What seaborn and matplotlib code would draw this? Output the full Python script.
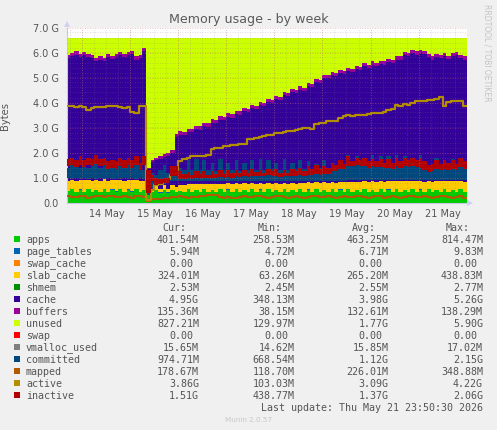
import numpy as np
import pandas as pd
import matplotlib
matplotlib.use("Agg")
import matplotlib.pyplot as plt
from matplotlib.patches import Rectangle
import seaborn as sns

# All values in GiB, one sample every two hours
total_ram = 6.6

apps = [.45,.55,.42,.52,.43,.55,.42,.50,.42,.55,.42,.52,.44,.55,.42,.52,.44,.55,.43,.50,
        .30,.42,.50,.40,.50,.40,.50,.42,.45,.42,.55,.42,.50,.42,.55,.42,.50,.42,.55,.42,
        .52,.42,.55,.42,.50,.42,.55,.42,.52,.42,.55,.42,.50,.42,.55,.42,.50,.42,.55,.42,
        .52,.42,.55,.42,.50,.42,.55,.42,.52,.42,.55,.42,.50,.42,.55,.42,.50,.42,.55,.42,
        .52,.42,.55,.42,.50,.42,.55,.42,.52,.42,.55,.42,.50,.42,.55,.42,.50,.42,.55,.42]
slab_cache = [.42,.36,.44,.38,.45,.36,.44,.38,.45,.37,.44,.38,.44,.36,.45,.38,.44,.36,.44,.36,
              .06,.10,.15,.12,.18,.12,.20,.18,.26,.28,.20,.30,.24,.30,.20,.30,.24,.30,.20,.30,
              .24,.32,.22,.32,.26,.32,.22,.32,.26,.32,.22,.32,.26,.32,.22,.32,.26,.32,.24,.34,
              .28,.34,.26,.36,.30,.36,.26,.36,.30,.38,.28,.38,.32,.38,.30,.40,.34,.40,.30,.40,
              .34,.42,.30,.42,.36,.42,.32,.42,.34,.40,.30,.40,.36,.42,.32,.42,.36,.42,.30,.40]
memory_used = [5.90,6.00,6.05,5.95,6.02,5.95,5.90,5.80,5.85,5.78,5.95,5.88,5.95,6.02,5.95,6.02,6.08,5.85,5.92,6.18,
               1.40,1.70,1.80,1.85,1.95,2.00,2.10,2.75,2.85,2.82,2.95,2.95,3.08,3.05,3.20,3.17,3.33,3.30,3.45,3.42,
               3.57,3.53,3.68,3.65,3.78,3.75,3.90,3.88,4.02,3.98,4.14,4.10,4.27,4.22,4.42,4.38,4.55,4.50,4.65,4.60,
               4.80,4.75,4.95,4.92,5.10,5.12,5.22,5.20,5.30,5.28,5.38,5.35,5.48,5.42,5.58,5.52,5.65,5.60,5.68,5.65,
               5.75,5.72,5.85,5.85,6.02,6.00,6.12,6.05,6.12,6.08,5.95,5.85,5.95,5.92,6.00,5.88,5.98,6.02,5.92,5.85]
buffers = [.13]*20 + [.04,.06,.08,.10,.12,.12,.13] + [.13]*73
page_tables = [.006]*100
swap_cache = [0.0]*100
shmem = [.0025]*100
swap = [0.0]*100
vmalloc_used = [.015]*100

committed_lo = [.98,.95]*10 + [.30,.60,.70,.72,.75,.78,.85,.85,.88,.86]*1 + [.88,.86]*20 + [.92,.90]*15
committed_hi = [1.40,1.50,1.60,1.40,1.55,1.40,1.50,1.60,1.40,1.55,1.35,1.50,1.40,1.60,1.40,1.50,1.40,1.60,1.35,1.30,
                1.00,1.20,1.10,1.30,1.50,1.20,1.40,1.30,1.40,1.30,1.70,1.30,1.75,1.30,1.70,1.30,1.60,1.25,1.75,1.30,
                1.60,1.30,1.70,1.25,1.60,1.30,1.70,1.30,1.75,1.30,1.70,1.35,1.60,1.30,1.75,1.30,1.60,1.35,1.70,1.35,
                1.65,1.35,1.55,1.40,1.70,1.35,1.60,1.40,1.70,1.40,1.90,1.50,1.85,1.50,1.80,1.50,1.90,1.50,1.85,1.50,
                1.85,1.50,1.90,1.50,1.85,1.50,1.80,1.50,1.90,1.45,1.40,1.50,1.80,1.45,1.70,1.40,1.75,1.40,1.80,1.45]
inactive_lo = [1.45,1.50,1.42,1.50,1.42,1.50,1.45,1.55,1.45,1.50,1.35,1.40,1.35,1.45,1.40,1.50,1.40,1.50,1.30,1.50,
               .40,.85,.72,.75,.80,.80,1.05,1.05,.95,.95,.97,.95,1.00,.97,1.00,.97,1.00,1.00,1.02,1.00,
               1.02,1.00,1.05,1.02,1.05,1.02,1.05,1.05,1.05,1.05,1.10,1.05,1.08,1.03,1.05,1.05,1.08,1.05,1.10,1.08,
               1.12,1.10,1.15,1.10,1.15,1.15,1.25,1.25,1.35,1.35,1.45,1.45,1.50,1.45,1.45,1.40,1.45,1.42,1.42,1.40,
               1.40,1.35,1.45,1.40,1.45,1.42,1.45,1.42,1.40,1.30,1.22,1.25,1.35,1.30,1.35,1.30,1.35,1.30,1.42,1.35]
inactive_hi = [1.75,1.80,1.70,1.85,1.70,1.80,1.75,1.90,1.75,1.80,1.65,1.70,1.65,1.80,1.70,1.80,1.70,1.85,1.60,1.85,
               1.30,1.10,1.00,.95,1.00,1.00,1.45,1.45,1.25,1.15,1.22,1.12,1.25,1.15,1.25,1.12,1.25,1.15,1.30,1.15,
               1.30,1.20,1.30,1.18,1.30,1.20,1.35,1.22,1.30,1.20,1.35,1.25,1.35,1.20,1.30,1.20,1.35,1.25,1.40,1.25,
               1.45,1.35,1.50,1.35,1.45,1.40,1.60,1.50,1.70,1.55,1.85,1.65,1.80,1.70,1.80,1.65,1.75,1.65,1.75,1.60,
               1.75,1.60,1.80,1.65,1.80,1.70,1.80,1.70,1.80,1.65,1.50,1.55,1.70,1.55,1.70,1.60,1.70,1.55,1.80,1.65]
mapped = [.25,.22,.24,.28,.25,.20,.22,.26,.28,.22,.25,.28,.22,.24,.28,.22,.20,.26,.28,.24,
          .08,.14,.16,.16,.18,.18,.22,.24,.26,.22,.18,.22,.24,.28,.28,.30,.30,.30,.22,.20,
          .22,.18,.20,.24,.26,.22,.22,.26,.28,.24,.20,.22,.26,.28,.22,.20,.24,.28,.24,.20,
          .22,.26,.28,.22,.24,.28,.24,.20,.22,.26,.24,.22,.26,.28,.22,.20,.24,.28,.26,.20,
          .22,.26,.24,.20,.24,.28,.26,.22,.22,.28,.24,.20,.22,.26,.28,.22,.20,.24,.26,.18]
active = [3.85,3.85,3.84,3.86,3.84,3.72,3.80,3.82,3.84,3.82,3.86,3.88,3.88,3.82,3.80,3.82,3.62,3.60,3.86,3.88,
          .10,.50,.70,.75,.85,.95,1.10,1.10,1.65,1.75,1.80,1.85,1.85,1.85,1.88,1.90,2.15,2.18,2.20,2.25,
          2.28,2.30,2.32,2.35,2.35,2.55,2.55,2.60,2.62,2.68,2.70,2.72,2.78,2.80,2.82,2.85,2.88,2.92,2.95,2.98,
          3.00,2.95,3.15,3.18,3.20,3.25,3.25,3.28,3.38,3.45,3.50,3.48,3.50,3.50,3.52,3.55,3.58,3.60,3.60,3.62,
          3.70,3.75,3.90,3.85,3.95,3.92,4.00,4.05,4.08,4.08,4.10,4.12,4.15,4.22,3.88,4.02,4.08,4.08,4.05,3.85]

row_names = ["apps","page_tables","swap_cache","slab_cache","shmem","cache","buffers","unused",
             "swap","vmalloc_used","committed","mapped","active","inactive"]
row_colors = ["#00CC00","#0066B3","#FF8000","#FFCC00","#008F00","#330099","#990099","#CCFF00",
              "#FF0000","#808080","#00487D","#B35A00","#B38F00","#B30000"]
stat_cur = ["401.54M","5.94M","0.00","324.01M","2.53M","4.95G","135.36M","827.21M","0.00","15.65M","974.71M","178.67M","3.86G","1.51G"]
stat_min = ["258.53M","4.72M","0.00","63.26M","2.45M","348.13M","38.15M","129.97M","0.00","14.62M","668.54M","118.70M","103.03M","438.77M"]
stat_avg = ["463.25M","6.71M","0.00","265.20M","2.55M","3.98G","132.61M","1.77G","0.00","15.85M","1.12G","226.01M","3.09G","1.37G"]
stat_max = ["814.47M","9.83M","0.00","438.83M","2.77M","5.26G","138.29M","5.90G","0.00","17.02M","2.15G","348.88M","4.22G","2.06G"]
day_labels = ["14 May","15 May","16 May","17 May","18 May","19 May","20 May","21 May"]

W, H = 497, 431
sns.set_theme(style="white")
plt.rcParams["font.family"] = "DejaVu Sans"
fig = plt.figure(figsize=(W/100, H/100), dpi=100, facecolor="#F0F0F0")
ax = fig.add_axes([66.5/W, (H-203.5)/H, 400/W, 175/H])
ax.set_facecolor("white")

times = pd.date_range("2026-05-13 16:00", periods=101, freq="2h")
def ext(a):
    a = np.asarray(a, dtype=float)
    return np.r_[a, a[-1]]

cache = np.array(memory_used) - np.array(apps) - np.array(page_tables) - np.array(swap_cache) \
        - np.array(slab_cache) - np.array(shmem) - np.array(buffers)
unused = total_ram - np.array(memory_used)
stack = [apps, page_tables, swap_cache, slab_cache, shmem, cache, buffers, unused, swap]
ax.stackplot(times, [ext(s) for s in stack], colors=row_colors[:9], step="post", linewidth=0, zorder=1)

frame = pd.DataFrame({"time": times, "vmalloc": ext(vmalloc_used), "mapped": ext(mapped), "active": ext(active)})
ax.fill_between(times, ext(committed_lo), ext(committed_hi), step="post", color=row_colors[10], lw=0, zorder=3)
sns.lineplot(data=frame, x="time", y="mapped", ax=ax, color=row_colors[11], lw=1.5,
             drawstyle="steps-post", estimator=None, zorder=4)
sns.lineplot(data=frame, x="time", y="active", ax=ax, color=row_colors[12], lw=1.6,
             drawstyle="steps-post", estimator=None, zorder=5)
ax.fill_between(times, ext(inactive_lo), ext(inactive_hi), step="post", color=row_colors[13], lw=0, zorder=6)

ax.set_xlim(times[0], times[-1])
ax.set_ylim(0, 7)
ax.set_xlabel("")
ax.set_ylabel("Bytes", fontsize=7.2, color="#555555")
ax.yaxis.set_label_coords((10 - 66.5) / 400, 0.5)

# grid in the rrdtool manner, over the marks
midnights = pd.date_range("2026-05-14", "2026-05-22", freq="D")
sixhours = pd.date_range("2026-05-13 18:00", "2026-05-22", freq="6h")
noons = pd.date_range("2026-05-14 12:00", periods=8, freq="D")
gray = dict(color="#808080", lw=0.6, ls=(0, (1, 2)), alpha=0.35, zorder=8)
red = dict(color="#d86060", lw=0.6, ls=(0, (1, 2)), alpha=0.5, zorder=9)
for t in sixhours:
    ax.axvline(t, **gray)
for v in np.arange(0.2, 7.01, 0.2):
    ax.axhline(v, **gray)
for t in midnights:
    ax.axvline(t, **red)
for v in range(1, 8):
    ax.axhline(v, **red)

ax.set_xticks(noons)
ax.set_xticklabels(day_labels)
ax.set_yticks(range(8))
ax.set_yticklabels(["0.0"] + [f"{v}.0 G" for v in range(1, 8)])
ax.tick_params(axis="x", length=0, labelsize=7.0, labelcolor="#555555", pad=4)
ax.tick_params(axis="y", length=2, width=0.6, color="#d08080", labelsize=7.0, labelcolor="#555555", pad=3.5)
for side in ["top", "right"]:
    ax.spines[side].set_visible(False)
for side in ["left", "bottom"]:
    ax.spines[side].set_color("#C8C8E8")
    ax.spines[side].set_linewidth(0.8)

def P(x, y):
    return x / W, 1 - y / H

# axis arrows
for (x, y, m) in [(66.5, 25, "^"), (470, 203.5, ">")]:
    fig.add_artist(plt.Line2D([x/W], [1-y/H], marker=m, ms=5, color="#D0D0F4", mew=0, transform=fig.transFigure))

fig.text(*P(248.5, 19), "Memory usage - by week", ha="center", va="center", fontsize=9.1, color="#5a5a5a")
fig.text(*P(487, 53), "RRDTOOL / TOBI OETIKER", rotation=270, ha="center", va="center", fontsize=5.5, color="#c4c4c4")

mono = dict(family="DejaVu Sans Mono", fontsize=7.2, color="#555555", va="center")
for x, h in [(186, "Cur:"), (281.7, "Min:"), (375.7, "Avg:"), (470, "Max:")]:
    fig.text(*P(x, 228), h, ha="right", **mono)
for i, name in enumerate(row_names):
    y = 240 + i * 12
    fig.add_artist(Rectangle(P(14, y + 3), 6/W, 6/H, transform=fig.transFigure, fc=row_colors[i], ec="none"))
    fig.text(*P(26, y), name, ha="left", **mono)
    for x, col in [(199, stat_cur), (294.3, stat_min), (388.3, stat_avg), (483, stat_max)]:
        s = col[i]
        fig.text(*P(x if s[-1] in "MG" else x - 6, y), s, ha="right", **mono)
fig.text(*P(483, 408), "Last update: Thu May 21 23:50:30 2026", ha="right", **mono)
fig.text(*P(248.5, 420), "Munin 2.0.57", ha="center", va="center", fontsize=5.2, color="#c8c8c8")

fig.savefig("out.png", dpi=100, facecolor=fig.get_facecolor())
